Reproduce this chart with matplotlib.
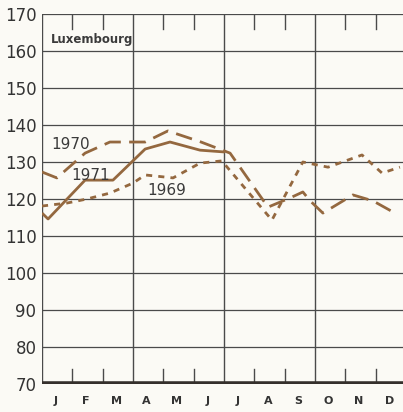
import matplotlib
matplotlib.use("Agg")
import matplotlib.pyplot as plt

# month positions (0 = start of January) and index values
x_1969 = [0.0, 0.82, 1.48, 2.24, 3.0, 3.40, 4.32, 5.21, 5.93, 7.58, 8.6, 9.43, 10.55, 11.21, 11.8]
y_1969 = [118.1, 118.9, 120.0, 121.6, 124.3, 126.5, 125.7, 129.7, 130.3, 114.3, 130.0, 128.6, 131.9, 127.0, 128.6]

x_1970 = [0.0, 0.49, 1.42, 2.24, 3.40, 4.15, 5.21, 6.2, 7.45, 8.18, 8.6, 8.84, 9.26, 10.25, 10.91, 11.7]
y_1970 = [127.3, 125.7, 132.4, 135.4, 135.4, 138.4, 135.5, 132.4, 117.8, 120.3, 121.9, 119.5, 116.2, 121.1, 119.5, 115.9]

x_1971 = [0.0, 0.2, 1.42, 2.34, 3.40, 4.22, 5.21, 6.03]
y_1971 = [116.2, 114.6, 125.1, 125.1, 133.5, 135.4, 133.2, 132.7]

months = ["J", "F", "M", "A", "M", "J", "J", "A", "S", "O", "N", "D"]
yticks = list(range(70, 171, 10))

BROWN = "#94683f"
GRID = "#4a4a4a"
BG = "#fbfaf5"

fig = plt.figure(figsize=(4.03, 4.12), dpi=100, facecolor=BG)
ax = fig.add_axes([42 / 403, 28 / 412, 364 / 403, 370 / 412])
ax.set_facecolor(BG)
ax.set_xlim(0, 12)
ax.set_ylim(70, 170)

for y in yticks[1:]:
    ax.axhline(y, color=GRID, lw=0.9, zorder=1)
for q in (0, 3, 6, 9):
    ax.axvline(q, color=GRID, lw=1.0, zorder=1)
ax.axhline(70, color="#35302c", lw=4, zorder=3)

# short month ticks along top and bottom
for m in range(1, 12):
    if m % 3:
        ax.plot([m, m], [170, 166], color=GRID, lw=1.0, zorder=1)
        ax.plot([m, m], [70, 74], color=GRID, lw=1.0, zorder=1)

ax.plot(x_1971, y_1971, color=BROWN, lw=2.0, solid_capstyle="butt", zorder=4)
ax.plot(x_1970, y_1970, color=BROWN, lw=2.0, dashes=(6, 3), zorder=4)
ax.plot(x_1969, y_1969, color=BROWN, lw=2.0, dashes=(2.2, 2.2), zorder=4)

ax.text(0.93, 134.6, "1970", fontsize=11, color="#3a3a3a", ha="center", va="center", zorder=5)
ax.text(1.6, 126.3, "1971", fontsize=11, color="#3a3a3a", ha="center", va="center", zorder=5)
ax.text(4.1, 122.2, "1969", fontsize=11, color="#3a3a3a", ha="center", va="center", zorder=5)
ax.text(0.28, 163.0, "Luxembourg", fontsize=8.5, fontweight="bold", color="#3a3a3a",
        ha="left", va="center", zorder=5)

for spine in ax.spines.values():
    spine.set_visible(False)
ax.set_yticks(yticks)
ax.set_yticklabels([str(v) for v in yticks], fontsize=12, color="#333333")
ax.set_xticks([m + 0.45 for m in range(12)])
ax.set_xticklabels(months, fontsize=8, fontweight="bold", color="#333333")
ax.tick_params(axis="both", length=0)
ax.tick_params(axis="y", pad=4)
ax.tick_params(axis="x", pad=9)

fig.savefig("out.png", dpi=100, facecolor=BG)
